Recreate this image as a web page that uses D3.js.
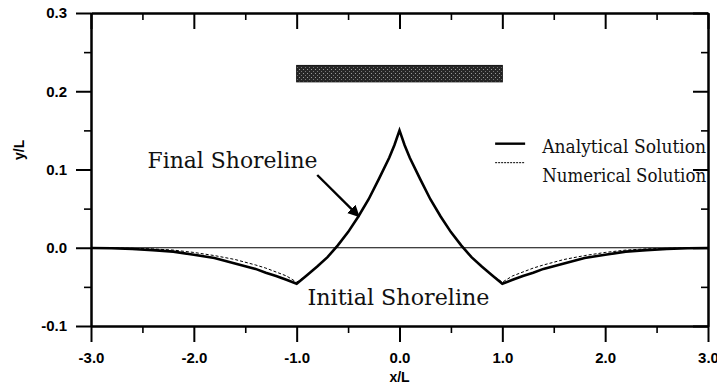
<!DOCTYPE html>
<html>
<head>
<meta charset="utf-8">
<style>
  body { margin: 0; background: #fff; }
  svg { display: block; }
  .axis text { font-family: "Liberation Sans", Arial, sans-serif; font-weight: bold; font-size: 15px; fill: #000; }
  .axis path, .axis line { stroke: #000; stroke-width: 2px; }
  .axis.minor line { stroke-width: 1.6px; }
  .title { font-family: "Liberation Sans", Arial, sans-serif; font-weight: bold; font-size: 14px; }
  .note { font-family: "DejaVu Serif", "Liberation Serif", serif; fill: #111; }
</style>
<script src="https://d3js.org/d3.v7.min.js"></script>
</head>
<body>
<script>
// final shoreline, analytical solution
var xAnalytical = [-3.0, -2.8, -2.6, -2.4, -2.2, -2.0, -1.8, -1.6, -1.4, -1.3, -1.2, -1.1, -1.0,
                   -0.9, -0.8, -0.7, -0.6, -0.5, -0.4, -0.3, -0.2, -0.1, -0.05, 0.0,
                   0.05, 0.1, 0.2, 0.3, 0.4, 0.5, 0.6, 0.7, 0.8, 0.9,
                   1.0, 1.1, 1.2, 1.3, 1.4, 1.6, 1.8, 2.0, 2.2, 2.4, 2.6, 2.8, 3.0];
var yAnalytical = [-0.0003, -0.0007, -0.0015, -0.003, -0.005, -0.009, -0.013, -0.020, -0.027, -0.032, -0.036, -0.041, -0.046,
                   -0.035, -0.024, -0.012, 0.003, 0.020, 0.040, 0.062, 0.088, 0.115, 0.131, 0.150,
                   0.131, 0.115, 0.088, 0.062, 0.040, 0.020, 0.003, -0.012, -0.024, -0.035,
                   -0.046, -0.041, -0.036, -0.032, -0.027, -0.020, -0.013, -0.009, -0.005, -0.003, -0.0015, -0.0007, -0.0003];

// final shoreline, numerical solution
var xNumerical = [-3.0, -2.8, -2.6, -2.4, -2.2, -2.0, -1.8, -1.6, -1.4, -1.3, -1.2, -1.1, -1.0,
                  -0.9, -0.8, -0.7, -0.6, -0.5, -0.4, -0.3, -0.2, -0.1, -0.05, 0.0,
                  0.05, 0.1, 0.2, 0.3, 0.4, 0.5, 0.6, 0.7, 0.8, 0.9,
                  1.0, 1.1, 1.2, 1.3, 1.4, 1.6, 1.8, 2.0, 2.2, 2.4, 2.6, 2.8, 3.0];
var yNumerical = [0.0, -0.0003, -0.0008, -0.0015, -0.003, -0.006, -0.010, -0.015, -0.022, -0.026, -0.031, -0.036, -0.044,
                  -0.035, -0.024, -0.012, 0.003, 0.020, 0.040, 0.062, 0.088, 0.115, 0.131, 0.150,
                  0.131, 0.115, 0.088, 0.062, 0.040, 0.020, 0.003, -0.012, -0.024, -0.035,
                  -0.044, -0.036, -0.031, -0.026, -0.022, -0.015, -0.010, -0.006, -0.003, -0.0015, -0.0008, -0.0003, 0.0];

// initial shoreline (straight)
var xInitial = [-3.0, 3.0];
var yInitial = [0.0, 0.0];

// detached breakwater extent
var breakwaterX = [-1.0, 1.0];
var breakwaterY = [0.212, 0.233];

var xMajor = [-3.0, -2.0, -1.0, 0.0, 1.0, 2.0, 3.0];
var xMinor = [-2.5, -1.5, -0.5, 0.5, 1.5, 2.5];
var yMajor = [-0.1, 0.0, 0.1, 0.2, 0.3];
var yMinor = [-0.05, 0.05, 0.15, 0.25];

var seriesNames = ['Analytical Solution', 'Numerical Solution'];

var margin = {top: 13, left: 91},
    W = 717, H = 386,
    pw = 617, ph = 313;

var svg = d3.select('body').append('svg')
    .attr('width', W)
    .attr('height', H);

var defs = svg.append('defs');

// stippled fill for the breakwater
var pat = defs.append('pattern')
    .attr('id', 'stipple')
    .attr('patternUnits', 'userSpaceOnUse')
    .attr('width', 4).attr('height', 4);
pat.append('rect').attr('width', 4).attr('height', 4).attr('fill', '#262626');
pat.append('rect').attr('x', 0).attr('y', 0).attr('width', 1).attr('height', 1).attr('fill', '#9a9a9a');
pat.append('rect').attr('x', 2).attr('y', 2).attr('width', 1).attr('height', 1).attr('fill', '#777');

defs.append('marker')
    .attr('id', 'head')
    .attr('viewBox', '0 0 10 10')
    .attr('refX', 9).attr('refY', 5)
    .attr('markerWidth', 5).attr('markerHeight', 5)
    .attr('orient', 'auto')
    .append('path').attr('d', 'M0,0 L10,5 L0,10 Z').attr('fill', '#000');

var g = svg.append('g')
    .attr('transform', 'translate(' + margin.left + ',' + margin.top + ')');

var x = d3.scaleLinear().domain([-3, 3]).range([0, pw]);
var y = d3.scaleLinear().domain([-0.1, 0.3]).range([ph, 0]);

var fmt = d => d.toFixed(1);

// axes - left & bottom outward with labels, top & right inward
g.append('g').attr('class', 'axis')
    .call(d3.axisLeft(y).tickValues(yMajor).tickSize(15).tickSizeOuter(0).tickPadding(9).tickFormat(fmt));
g.append('g').attr('class', 'axis minor')
    .call(d3.axisLeft(y).tickValues(yMinor).tickSize(7).tickSizeOuter(0).tickFormat(''));

g.append('g').attr('class', 'axis')
    .attr('transform', 'translate(0,' + ph + ')')
    .call(d3.axisBottom(x).tickValues(xMajor).tickSize(16).tickSizeOuter(0).tickPadding(10).tickFormat(fmt));
g.append('g').attr('class', 'axis minor')
    .attr('transform', 'translate(0,' + ph + ')')
    .call(d3.axisBottom(x).tickValues(xMinor).tickSize(7).tickSizeOuter(0).tickFormat(''));

g.append('g').attr('class', 'axis')
    .call(d3.axisTop(x).tickValues(xMajor).tickSize(-16).tickSizeOuter(0).tickFormat(''));
g.append('g').attr('class', 'axis minor')
    .call(d3.axisTop(x).tickValues(xMinor).tickSize(-7).tickSizeOuter(0).tickFormat(''));

g.append('g').attr('class', 'axis')
    .attr('transform', 'translate(' + pw + ',0)')
    .call(d3.axisRight(y).tickValues(yMajor).tickSize(-15).tickSizeOuter(0).tickFormat(''));
g.append('g').attr('class', 'axis minor')
    .attr('transform', 'translate(' + pw + ',0)')
    .call(d3.axisRight(y).tickValues(yMinor).tickSize(-7).tickSizeOuter(0).tickFormat(''));

// axis titles
svg.append('text').attr('class', 'title')
    .attr('x', margin.left + x(0)).attr('y', 382)
    .attr('text-anchor', 'middle')
    .text('x/L');
svg.append('text').attr('class', 'title')
    .attr('transform', 'translate(24,' + (margin.top + y(0.125)) + ') rotate(-90)')
    .attr('text-anchor', 'middle')
    .text('y/L');

// breakwater
g.append('rect')
    .attr('x', x(breakwaterX[0]))
    .attr('y', y(breakwaterY[1]))
    .attr('width', x(breakwaterX[1]) - x(breakwaterX[0]))
    .attr('height', y(breakwaterY[0]) - y(breakwaterY[1]))
    .attr('fill', 'url(#stipple)')
    .attr('stroke', '#111')
    .attr('stroke-width', 1);

var line = d3.line().x(d => x(d[0])).y(d => y(d[1]));

// initial shoreline
g.append('path')
    .datum(d3.zip(xInitial, yInitial))
    .attr('d', line)
    .attr('fill', 'none')
    .attr('stroke', '#000')
    .attr('stroke-width', 1.2);

// numerical (dashed, thin)
g.append('path')
    .datum(d3.zip(xNumerical, yNumerical))
    .attr('d', line)
    .attr('fill', 'none')
    .attr('stroke', '#000')
    .attr('stroke-width', 1)
    .attr('stroke-dasharray', '3,2');

// analytical (solid, thick)
g.append('path')
    .datum(d3.zip(xAnalytical, yAnalytical))
    .attr('d', line)
    .attr('fill', 'none')
    .attr('stroke', '#000')
    .attr('stroke-width', 2.6)
    .attr('stroke-linejoin', 'miter');

// legend: symbols stacked 19px apart, labels 29px apart
var legend = g.append('g').attr('transform', 'translate(' + x(0.93) + ',' + y(0.133) + ')');
seriesNames.forEach(function(name, i) {
    legend.append('line')
        .attr('x1', 0).attr('x2', 30)
        .attr('y1', i * 19).attr('y2', i * 19)
        .attr('stroke', '#000')
        .attr('stroke-width', i === 0 ? 2.4 : 1)
        .attr('stroke-dasharray', i === 0 ? null : '2,1');
    legend.append('text').attr('class', 'note')
        .attr('x', 47).attr('y', 9 + i * 29)
        .attr('font-size', 19)
        .attr('textLength', 164)
        .attr('lengthAdjust', 'spacingAndGlyphs')
        .text(name);
});

// annotations
g.append('text').attr('class', 'note')
    .attr('x', x(-2.45)).attr('y', y(0.102))
    .attr('font-size', 22)
    .attr('textLength', 170)
    .attr('lengthAdjust', 'spacingAndGlyphs')
    .text('Final Shoreline');

g.append('line')
    .attr('x1', x(-0.8)).attr('y1', y(0.093))
    .attr('x2', x(-0.395)).attr('y2', y(0.040))
    .attr('stroke', '#000')
    .attr('stroke-width', 2.4)
    .attr('marker-end', 'url(#head)');

g.append('text').attr('class', 'note')
    .attr('x', x(-0.895)).attr('y', y(-0.073))
    .attr('font-size', 22)
    .attr('textLength', 182)
    .attr('lengthAdjust', 'spacingAndGlyphs')
    .text('Initial Shoreline');
</script>
</body>
</html>
